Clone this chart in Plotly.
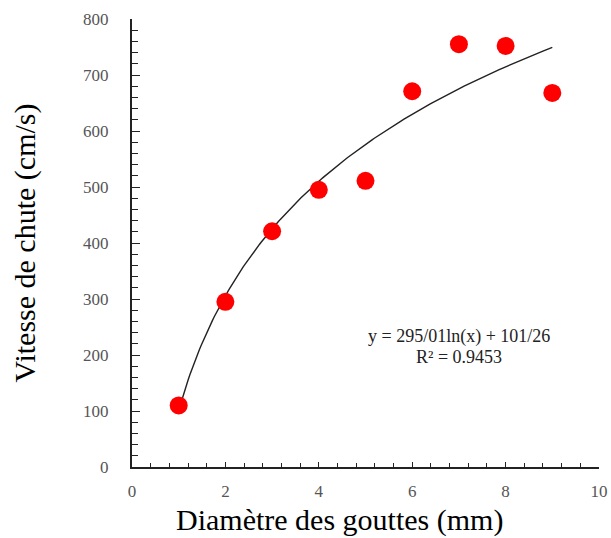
import numpy as np
import plotly.graph_objects as go

diam = [1, 2, 3, 4, 5, 6, 7, 8, 9]
vitesse = [110, 295, 421, 495, 511, 671, 755, 752, 668]
fit_a, fit_b = 295.01, 101.26
x_ticks = [0, 2, 4, 6, 8, 10]
y_ticks = [0, 100, 200, 300, 400, 500, 600, 700, 800]
eq_text = "y = 295/01ln(x) + 101/26"
r2_text = "R² = 0.9453"
x_title = "Diamètre des gouttes (mm)"
y_title = "Vitesse de chute (cm/s)"

xf = np.linspace(1, 9, 200)
yf = fit_a * np.log(xf) + fit_b

fig = go.Figure()
fig.add_trace(go.Scatter(x=xf, y=yf, mode="lines",
                         line=dict(color="#222222", width=1.4), showlegend=False))
fig.add_trace(go.Scatter(x=diam, y=vitesse, mode="markers",
                         marker=dict(color="#ff0000", size=18), showlegend=False))

font = "Liberation Serif, Times New Roman, serif"
fig.update_layout(
    width=611, height=538,
    margin=dict(l=132, r=12, t=19, b=71),
    plot_bgcolor="white", paper_bgcolor="white",
    font=dict(family=font),
    xaxis=dict(range=[0, 10], tickvals=x_ticks, showgrid=False, zeroline=False,
               automargin=False,
               showline=True, linecolor="#222", linewidth=2,
               ticks="inside", ticklen=5, tickcolor="#222",
               minor=dict(dtick=0.4, ticks="inside", ticklen=4, tickcolor="#222"),
               tickfont=dict(size=17, color="#555", family=font),
               ticklabelstandoff=8),
    yaxis=dict(range=[0, 800], tickvals=y_ticks, showgrid=False, zeroline=False,
               automargin=False,
               showline=True, linecolor="#222", linewidth=2,
               ticks="inside", ticklen=8, tickcolor="#222",
               minor=dict(dtick=20, ticks="inside", ticklen=6, tickcolor="#222"),
               tickfont=dict(size=17, color="#555", family=font),
               ticklabelstandoff=18,
               title=dict(text=y_title, font=dict(size=30, color="black"), standoff=39)),
    annotations=[
        dict(x=7.0, y=233, xref="x", yref="y", showarrow=False, text=eq_text,
             font=dict(size=18, color="#222", family=font)),
        dict(x=7.0, y=197, xref="x", yref="y", showarrow=False, text=r2_text,
             font=dict(size=18, color="#222", family=font)),
        dict(x=0.445, y=0, xref="paper", yref="paper", yanchor="middle",
             yshift=-53, showarrow=False, text=x_title,
             font=dict(size=30, color="black", family=font)),
    ],
)
fig.write_html("out.html")
